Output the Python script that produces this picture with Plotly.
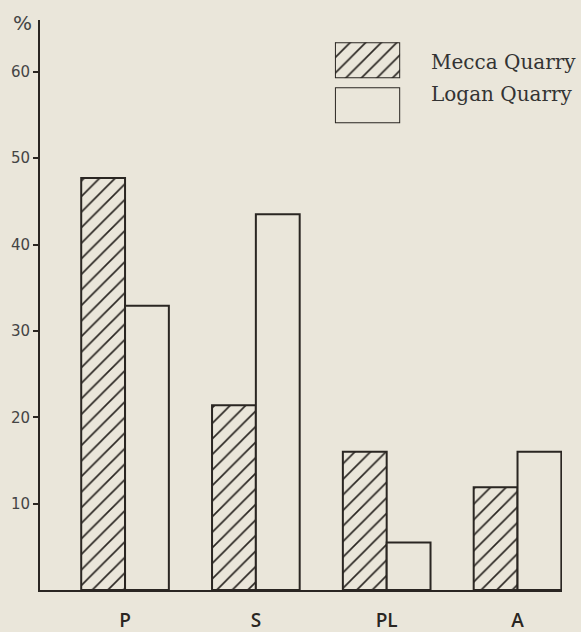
import plotly.graph_objects as go

categories = ["P", "S", "PL", "A"]
series_names = ["Mecca Quarry", "Logan Quarry"]
mecca_values = [47.7, 21.4, 16.0, 11.9]
logan_values = [32.9, 43.5, 5.5, 16.0]
y_tick_values = [10, 20, 30, 40, 50, 60]
y_tick_labels = ["10", "20", "30", "40", "50", "60"]

BG = "#EAE6DA"
INK = "#2a2622"

fig = go.Figure()

hatch = dict(shape="/", size=11, solidity=0.15, fgcolor=INK, bgcolor=BG, fillmode="replace")

fig.add_trace(go.Bar(
    x=categories, y=mecca_values, name=series_names[0],
    marker=dict(color=BG, pattern=hatch, line=dict(color=INK, width=2)),
    showlegend=False,
))
fig.add_trace(go.Bar(
    x=categories, y=logan_values, name=series_names[1],
    marker=dict(color=BG, line=dict(color=INK, width=2)),
    showlegend=False,
))

# legend swatches drawn as single bars on small helper axes
fig.add_trace(go.Bar(
    x=[0], y=[1], width=[1], xaxis="x2", yaxis="y2", cliponaxis=False,
    marker=dict(color=BG, pattern=hatch, line=dict(color=INK, width=2)),
    showlegend=False, hoverinfo="skip",
))
fig.add_trace(go.Bar(
    x=[0], y=[1], width=[1], xaxis="x3", yaxis="y3", cliponaxis=False,
    marker=dict(color=BG, line=dict(color=INK, width=2)),
    showlegend=False, hoverinfo="skip",
))

fig.update_layout(
    width=581, height=632,
    margin=dict(l=40, r=19, t=20, b=42),
    paper_bgcolor=BG, plot_bgcolor=BG,
    barmode="group", bargap=0.33, bargroupgap=0,
    xaxis=dict(
        range=[-0.65, 3.34], showline=True, linecolor=INK, linewidth=2,
        showgrid=False, zeroline=False, ticks="", automargin=False,
        tickfont=dict(family="Open Sans", size=19, color=INK, weight=600),
        ticklabelstandoff=12,
    ),
    yaxis=dict(
        range=[0, 66], showline=True, linecolor=INK, linewidth=2,
        showgrid=False, zeroline=False, automargin=False,
        tickvals=y_tick_values, ticktext=y_tick_labels,
        ticks="outside", ticklen=5, tickwidth=1.5, tickcolor=INK,
        tickfont=dict(family="DejaVu Sans", size=15, color="#444"),
    ),
    xaxis2=dict(domain=[0.565, 0.690], range=[-0.5, 0.5], visible=False, anchor="y2"),
    yaxis2=dict(domain=[0.898, 0.961], range=[0, 1], visible=False, anchor="x2"),
    xaxis3=dict(domain=[0.565, 0.690], range=[-0.5, 0.5], visible=False, anchor="y3"),
    yaxis3=dict(domain=[0.819, 0.882], range=[0, 1], visible=False, anchor="x3"),
    annotations=[
        dict(text=series_names[0], xref="paper", yref="paper", x=0.745, y=0.926,
             xanchor="left", yanchor="middle", showarrow=False,
             font=dict(family="DejaVu Serif", size=20, color="#333")),
        dict(text=series_names[1], xref="paper", yref="paper", x=0.745, y=0.870,
             xanchor="left", yanchor="middle", showarrow=False,
             font=dict(family="DejaVu Serif", size=20, color="#333")),
        dict(text="%", xref="paper", yref="paper", x=-0.034, y=0.995,
             xanchor="center", yanchor="middle", showarrow=False,
             font=dict(family="DejaVu Sans", size=20, color="#444")),
    ],
)

fig.write_html(
    "out.html",
    config={"displayModeBar": False},
    post_script="document.body.style.margin='0';document.body.style.padding='0';document.body.style.overflow='hidden';",
)
